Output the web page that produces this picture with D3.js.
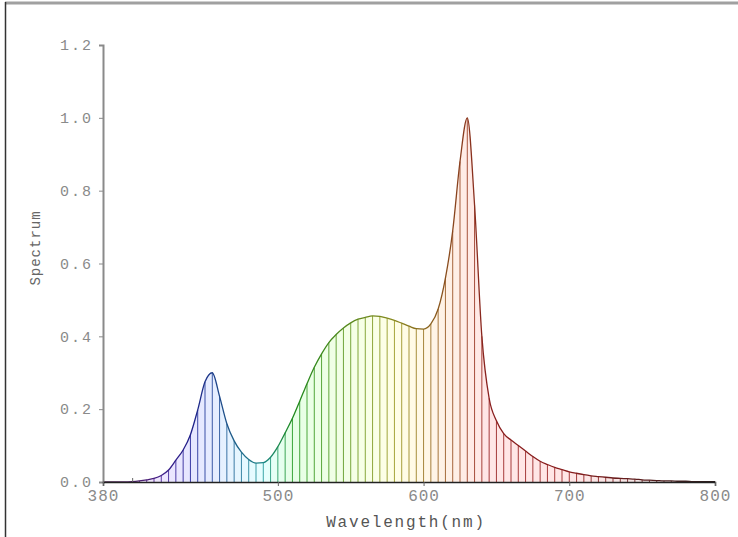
<!DOCTYPE html>
<html>
<head>
<meta charset="utf-8">
<script src="https://cdn.jsdelivr.net/npm/d3@7"></script>
<style>
  body { margin: 0; background: #fff; }
  svg { display: block; }
  .tick-label { font-family: "Liberation Mono", monospace; fill: #8a8a8a; }
</style>
</head>
<body>
<svg id="chart" width="738" height="537"></svg>
<script>
// wavelength samples every 5 nm, 380 .. 800
const WAVELENGTHS = d3.range(380, 801, 5);
const SPECTRUM = [
  0.000, 0.000, 0.000, 0.000, 0.001, 0.003, 0.006, 0.010, 0.018, 0.033,
  0.060, 0.088, 0.130, 0.198, 0.275, 0.300, 0.235, 0.160, 0.113, 0.082,
  0.062, 0.052, 0.053, 0.068, 0.097, 0.135, 0.175, 0.222, 0.270, 0.315,
  0.352, 0.383, 0.405, 0.423, 0.437, 0.447, 0.452, 0.456, 0.455, 0.450,
  0.444, 0.436, 0.428, 0.421, 0.420, 0.434, 0.475, 0.560, 0.690, 0.880,
  1.000, 0.760, 0.400, 0.230, 0.168, 0.133, 0.115, 0.100, 0.085, 0.070,
  0.057, 0.048, 0.040, 0.034, 0.028, 0.024, 0.020, 0.017, 0.015, 0.013,
  0.011, 0.010, 0.009, 0.008, 0.006, 0.005, 0.004, 0.003, 0.003, 0.002,
  0.002, 0.001, 0.001, 0.001, 0.001
];
const X_TICKS = [380, 400, 500, 600, 700, 800];
const X_HIDDEN_LABELS = [400];
const Y_TICKS = [0, 0.2, 0.4, 0.6, 0.8, 1.0, 1.2];

const data = WAVELENGTHS.map((w, i) => ({ w: w, v: SPECTRUM[i] }));

// approximate visible colour of a wavelength
function wlColor(w) {
  let r = 0, g = 0, b = 0;
  if (w < 440) { r = -(w - 440) / 60; b = 1; }
  else if (w < 490) { g = (w - 440) / 50; b = 1; }
  else if (w < 510) { g = 1; b = -(w - 510) / 20; }
  else if (w < 580) { r = (w - 510) / 70; g = 1; }
  else if (w < 645) { r = 1; g = -(w - 645) / 65; }
  else { r = 1; }
  let f = 1;
  if (w < 420) f = 0.3 + 0.7 * (w - 380) / 40;
  else if (w > 700) f = Math.max(0.1, 0.3 + 0.7 * (780 - w) / 80);
  return d3.rgb(255 * r * f, 255 * g * f, 255 * b * f);
}

const svg = d3.select('#chart');

// frame
svg.append('line').attr('x1', 5).attr('x2', 738).attr('y1', 3).attr('y2', 3)
  .attr('stroke', '#a0a0a0').attr('stroke-width', 3);
svg.append('line').attr('x1', 5.5).attr('x2', 5.5).attr('y1', 2).attr('y2', 537)
  .attr('stroke', '#333').attr('stroke-width', 1.5);

const margin = { left: 103, top: 45, right: 23, bottom: 50 };
const width = 738 - margin.left - margin.right;
const height = 537 - margin.top - margin.bottom - 5;

const x = d3.scaleLinear().domain([380, 800]).range([0, width]);
const y = d3.scaleLinear().domain([0, 1.2]).range([height, 0]);

const plot = svg.append('g').attr('transform', `translate(${margin.left},${margin.top})`);

// gradients
const defs = svg.append('defs');
function makeGradient(id, colorFn) {
  const grad = defs.append('linearGradient').attr('id', id)
    .attr('gradientUnits', 'userSpaceOnUse')
    .attr('x1', x(380)).attr('x2', x(800)).attr('y1', 0).attr('y2', 0);
  WAVELENGTHS.forEach(w => {
    const c = colorFn(w);
    grad.append('stop')
      .attr('offset', (w - 380) / 420)
      .attr('stop-color', c.color)
      .attr('stop-opacity', c.opacity);
  });
}
makeGradient('fillGrad', w => ({ color: wlColor(w).formatHex(), opacity: 0.1 }));
makeGradient('lineGrad', w => ({ color: d3.interpolateRgb(wlColor(w), '#333')(0.58), opacity: 1 }));

const curve = d3.curveMonotoneX;

// pale filled area
plot.append('path')
  .datum(data)
  .attr('fill', 'url(#fillGrad)')
  .attr('d', d3.area().curve(curve).x(d => x(d.w)).y0(y(0)).y1(d => y(d.v)));

// vertical sample lines
plot.append('g')
  .selectAll('line')
  .data(data.filter(d => d.v > 0))
  .enter().append('line')
  .attr('x1', d => x(d.w)).attr('x2', d => x(d.w))
  .attr('y1', y(0)).attr('y2', d => y(d.v))
  .attr('stroke', d => d3.interpolateRgb(wlColor(d.w), '#666')(0.58))
  .attr('stroke-width', 1);

// outline
plot.append('path')
  .datum(data)
  .attr('fill', 'none')
  .attr('stroke', 'url(#lineGrad)')
  .attr('stroke-width', 1.3)
  .attr('d', d3.line().curve(curve).x(d => x(d.w)).y(d => y(d.v)));

// y axis
const yAxis = plot.append('g')
  .call(d3.axisLeft(y).tickValues(Y_TICKS).tickFormat(d3.format('.1f')).tickSize(4).tickPadding(6));
yAxis.select('.domain').attr('stroke', '#8a8a8a').attr('stroke-width', 2);
yAxis.selectAll('.tick line').attr('stroke', '#8a8a8a');
yAxis.selectAll('.tick text').attr('class', 'tick-label')
  .style('font-size', '15px').style('letter-spacing', '2px');

// x axis
const xAxis = plot.append('g')
  .attr('transform', `translate(0,${height})`)
  .call(d3.axisBottom(x).tickValues(X_TICKS)
    .tickFormat(d => X_HIDDEN_LABELS.includes(d) ? '' : d)
    .tickSize(4).tickPadding(4));
xAxis.select('.domain').attr('stroke', '#222').attr('stroke-width', 1.5);
xAxis.selectAll('.tick line').attr('stroke', '#666')
  .attr('y1', d => X_HIDDEN_LABELS.includes(d) ? -4 : 0)
  .attr('y2', d => X_HIDDEN_LABELS.includes(d) ? 0 : 4);
xAxis.selectAll('.tick text').attr('class', 'tick-label')
  .style('font-size', '16px').style('letter-spacing', '1px');

// axis titles
svg.append('text')
  .attr('x', 406).attr('y', 527)
  .attr('text-anchor', 'middle')
  .style('font-family', '"Liberation Mono", monospace')
  .style('font-size', '16px').style('letter-spacing', '1.8px')
  .attr('fill', '#555')
  .text('Wavelength(nm)');

svg.append('text')
  .attr('transform', 'translate(40,248) rotate(-90)')
  .attr('text-anchor', 'middle')
  .style('font-family', '"Liberation Mono", monospace')
  .style('font-size', '14px').style('letter-spacing', '1px')
  .attr('fill', '#666')
  .text('Spectrum');
</script>
</body>
</html>
